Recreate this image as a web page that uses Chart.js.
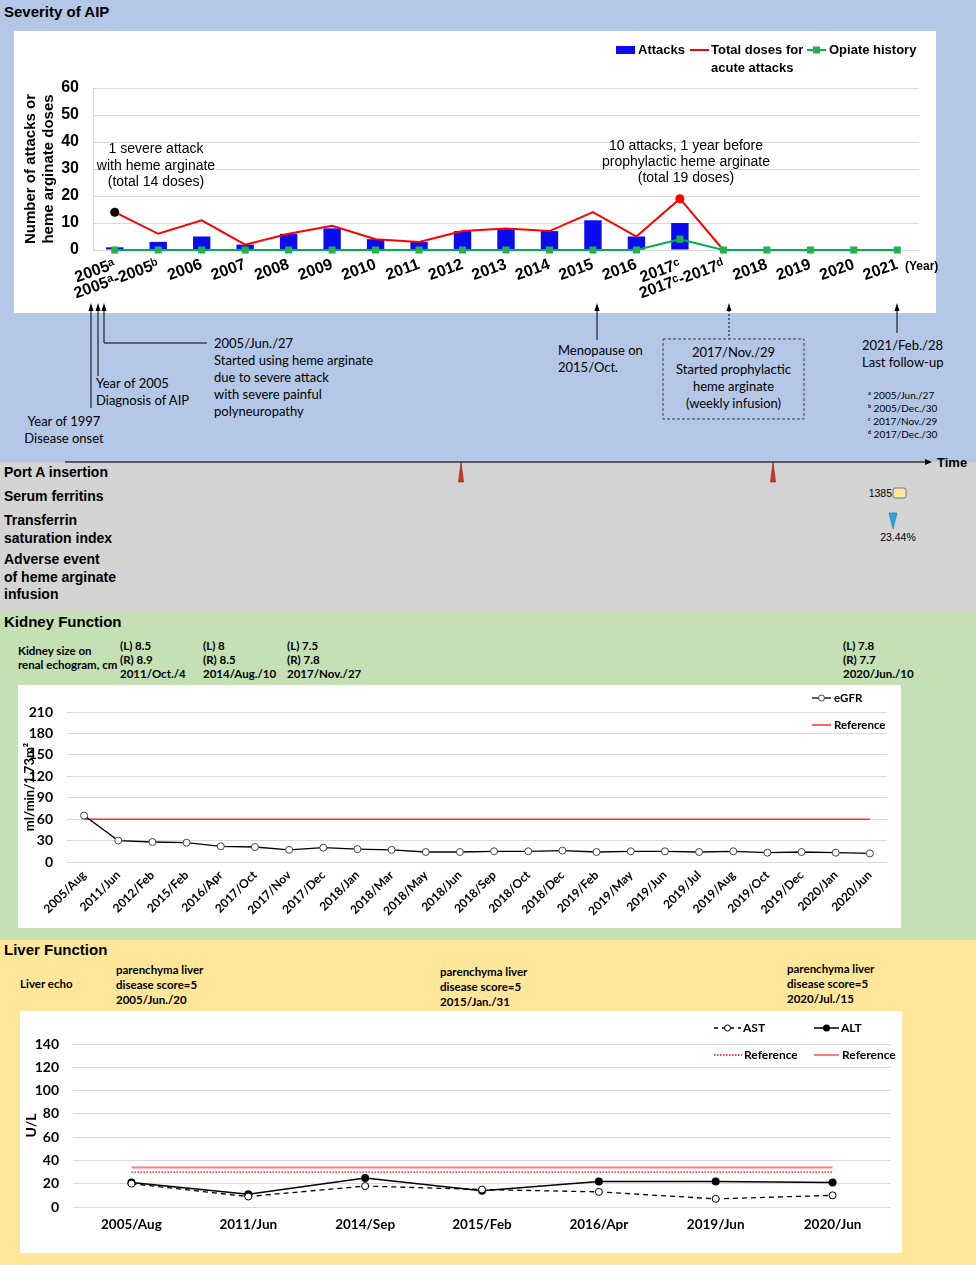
<!DOCTYPE html>
<html>
<head>
<meta charset="utf-8">
<script src="https://cdn.jsdelivr.net/npm/chart.js@4.4.1/dist/chart.umd.min.js"></script>
<style>
  body { margin: 0; background: #fff; }
  #page { position: relative; width: 976px; height: 1265px; overflow: hidden;
          font-family: "Liberation Sans", Arial, sans-serif; color: #000; }
  .band { position: absolute; left: 0; width: 976px; }
  .box { position: absolute; background: #fff; }
  .t { position: absolute; white-space: nowrap; }
  .head { font-weight: bold; font-size: 15px; line-height: 18px; left: 4px; }
  .cal { font-family: Lato, "Open Sans", sans-serif; }
  .calb { font-family: Lato, "Open Sans", sans-serif; font-weight: bold; font-size: 11.5px; line-height: 14px; }
  .note { font-family: Lato, "Open Sans", sans-serif; font-size: 13px; line-height: 17px; }
  .grey { font-weight: bold; font-size: 14px; line-height: 17.5px; left: 4px; }
  .lg { font-weight: bold; font-size: 13px; line-height: 18px; }
  canvas { position: absolute; }
  svg { position: absolute; left: 0; top: 0; }
</style>
</head>
<body>
<div id="page">
  <!-- backgrounds -->
  <div class="band" style="top:0;height:462px;background:#b4c7e7"></div>
  <div class="band" style="top:462px;height:150px;background:#d4d4d4"></div>
  <div class="band" style="top:612px;height:328px;background:#c5e0b4"></div>
  <div class="band" style="top:940px;height:325px;background:#ffe699"></div>

  <div class="box" style="left:14px;top:31px;width:922px;height:282px"></div>
  <div class="box" style="left:18px;top:685px;width:883px;height:243px"></div>
  <div class="box" style="left:20px;top:1011px;width:882px;height:242px"></div>

  <canvas id="severity" width="922" height="282" style="left:14px;top:31px"></canvas>
  <canvas id="kidney" width="883" height="243" style="left:18px;top:685px"></canvas>
  <canvas id="liver" width="882" height="242" style="left:20px;top:1011px"></canvas>

  <!-- severity section -->
  <div class="t head" style="top:3px">Severity of AIP</div>
  <div class="t" style="left:56px;width:200px;top:140px;text-align:center;font-size:14px;line-height:16.5px">1 severe attack<br>with heme arginate<br>(total 14 doses)</div>
  <div class="t" style="left:586px;width:200px;top:137px;text-align:center;font-size:14px;line-height:16px">10 attacks, 1 year before<br>prophylactic heme arginate<br>(total 19 doses)</div>
  <div class="t lg" style="left:638px;top:41px">Attacks</div>
  <div class="t lg" style="left:711px;top:41px">Total doses for<br>acute attacks</div>
  <div class="t lg" style="left:829px;top:41px">Opiate history</div>
  <div class="t" style="left:905px;top:259px;font-weight:bold;font-size:12px;line-height:14px">(Year)</div>

  <div class="t note" style="left:214px;top:334.5px">2005/Jun./27<br>Started using heme arginate<br>due to severe attack<br>with severe painful<br>polyneuropathy</div>
  <div class="t note" style="left:96px;top:374.5px">Year of 2005<br>Diagnosis of AIP</div>
  <div class="t note" style="left:14px;width:100px;text-align:center;top:412.5px">Year of 1997<br>Disease onset</div>
  <div class="t note" style="left:558px;top:341.5px">Menopause on<br>2015/Oct.</div>
  <div class="t note" style="left:663px;width:141px;text-align:center;top:343.5px;line-height:17.3px">2017/Nov./29<br>Started prophylactic<br>heme arginate<br>(weekly infusion)</div>
  <div class="t note" style="left:862px;top:336.5px">2021/Feb./28<br>Last follow-up</div>
  <div class="t cal" style="left:868px;top:388.5px;font-size:10px;line-height:13.3px">ᵃ 2005/Jun./27<br>ᵇ 2005/Dec./30<br>ᶜ 2017/Nov./29<br>ᵈ 2017/Dec./30</div>

  <!-- grey section -->
  <div class="t grey" style="top:463.5px">Port A insertion</div>
  <div class="t grey" style="top:488px">Serum ferritins</div>
  <div class="t grey" style="top:512px">Transferrin<br>saturation index</div>
  <div class="t grey" style="top:551px">Adverse event<br>of heme arginate<br>infusion</div>
  <div class="t" style="left:937px;top:455px;font-weight:bold;font-size:13px;line-height:16px">Time</div>
  <div class="t" style="left:860px;width:32px;text-align:right;top:486px;font-size:10.5px;line-height:14px">1385</div>
  <div class="t" style="left:873px;width:50px;text-align:center;top:530px;font-size:10.5px;line-height:14px">23.44%</div>

  <!-- kidney section -->
  <div class="t head" style="top:613px">Kidney Function</div>
  <div class="t calb" style="left:18px;top:644px">Kidney size on<br>renal echogram, cm</div>
  <div class="t calb" style="left:120px;top:639px">(L) 8.5<br>(R) 8.9<br>2011/Oct./4</div>
  <div class="t calb" style="left:203px;top:639px">(L) 8<br>(R) 8.5<br>2014/Aug./10</div>
  <div class="t calb" style="left:287px;top:639px">(L) 7.5<br>(R) 7.8<br>2017/Nov./27</div>
  <div class="t calb" style="left:843px;top:639px">(L) 7.8<br>(R) 7.7<br>2020/Jun./10</div>
  <div class="t calb" style="left:834px;top:691px">eGFR</div>
  <div class="t calb" style="left:834px;top:718px">Reference</div>

  <!-- liver section -->
  <div class="t head" style="top:941px">Liver Function</div>
  <div class="t calb" style="left:20px;top:977px">Liver echo</div>
  <div class="t calb" style="left:116px;top:961.5px;line-height:15px">parenchyma liver<br>disease score=5<br>2005/Jun./20</div>
  <div class="t calb" style="left:440px;top:963.5px;line-height:15px">parenchyma liver<br>disease score=5<br>2015/Jan./31</div>
  <div class="t calb" style="left:787px;top:960.5px;line-height:15px">parenchyma liver<br>disease score=5<br>2020/Jul./15</div>
  <div class="t calb" style="left:743px;top:1021px;font-size:12px">AST</div>
  <div class="t calb" style="left:841px;top:1021px;font-size:12px">ALT</div>
  <div class="t calb" style="left:744px;top:1048px;font-size:12px">Reference</div>
  <div class="t calb" style="left:842px;top:1048px;font-size:12px">Reference</div>

  <svg width="976" height="1265">
    <!-- severity legend keys -->
    <rect x="616" y="46" width="19" height="8" fill="#0b0bef"/>
    <line x1="690" y1="50" x2="709" y2="50" stroke="#ff0000" stroke-width="2"/>
    <line x1="807" y1="50" x2="826" y2="50" stroke="#00b050" stroke-width="2"/>
    <rect x="813" y="46.5" width="7" height="7" fill="#22b14c"/>

    <!-- timeline arrows -->
    <g stroke="#000" stroke-width="1" fill="none">
      <polyline points="91,306 91,408"/>
      <polyline points="98,306 98,376"/>
      <polyline points="104,306 104,343 207,343"/>
      <polyline points="597,306 597,340"/>
      <polyline points="729,306 729,339" stroke-dasharray="2,2"/>
      <polyline points="897,306 897,333"/>
      <rect x="663" y="339" width="141" height="80" stroke="#404040" stroke-dasharray="3,2"/>
      <line x1="65" y1="462" x2="926" y2="462" stroke="#333" stroke-width="1.3"/>
    </g>
    <g fill="#000">
      <polygon points="88.5,311 91,303 93.5,311"/>
      <polygon points="95.5,311 98,303 100.5,311"/>
      <polygon points="101.5,311 104,303 106.5,311"/>
      <polygon points="594.5,311 597,303 599.5,311"/>
      <polygon points="726.5,311 729,303 731.5,311"/>
      <polygon points="894.5,311 897,303 899.5,311"/>
      <polygon points="925,459 932,462 925,465"/>
    </g>

    <!-- grey band markers -->
    <polygon points="458.5,482 461,462 463.5,482" fill="#d9381e" stroke="#8b1a10" stroke-width="0.6"/>
    <polygon points="770.5,482 773,462 775.5,482" fill="#d9381e" stroke="#8b1a10" stroke-width="0.6"/>
    <rect x="893" y="488" width="13" height="10" rx="2" fill="#ffe699" stroke="#5b7fb0" stroke-width="1"/>
    <polygon points="889,513 897,513 893,529" fill="#29a8e0" stroke="#1a6fa0" stroke-width="0.6"/>

    <!-- kidney legend keys -->
    <line x1="812" y1="698" x2="831" y2="698" stroke="#000" stroke-width="1.3"/>
    <circle cx="821.5" cy="698" r="3" fill="#fff" stroke="#444" stroke-width="1"/>
    <line x1="812" y1="725" x2="831" y2="725" stroke="#ff3030" stroke-width="1.5"/>

    <!-- liver legend keys -->
    <line x1="714" y1="1028" x2="741" y2="1028" stroke="#000" stroke-width="1.3" stroke-dasharray="4,4"/>
    <circle cx="727.5" cy="1028" r="3" fill="#fff" stroke="#000" stroke-width="1"/>
    <line x1="814" y1="1028" x2="839" y2="1028" stroke="#000" stroke-width="1.5"/>
    <circle cx="826.5" cy="1028" r="3.5" fill="#000"/>
    <line x1="714" y1="1055" x2="742" y2="1055" stroke="#ff0000" stroke-width="1.3" stroke-dasharray="1.5,1.5"/>
    <line x1="814" y1="1055" x2="839" y2="1055" stroke="#ff7c80" stroke-width="2"/>
  </svg>
</div>

<script>
// ---- Severity of AIP ----
const severityYears = ['2005ᵃ', '2005ᵃ-2005ᵇ', '2006', '2007', '2008', '2009', '2010', '2011', '2012',
  '2013', '2014', '2015', '2016', '2017ᶜ', '2017ᶜ-2017ᵈ', '2018', '2019', '2020', '2021'];
const attacks = [1, 3, 5, 2, 6, 8, 4, 3, 7, 8, 7, 11, 5, 10, 0, null, null, null, null];
const totalDoses = [14, 6, 11, 2, 6, 9, 4, 3, 7, 8, 7, 14, 5, 19, 0, null, null, null, null];
const opiateHistory = [0, 0, 0, 0, 0, 0, 0, 0, 0, 0, 0, 0, 0, 4, 0, 0, 0, 0, 0];
const severityTicks = [0, 10, 20, 30, 40, 50, 60];
const markedDoses = { 0: '#000000', 13: '#ff0000' };   // index -> dot colour

// ---- Kidney function ----
const egfrDates = ['2005/Aug', '2011/Jun', '2012/Feb', '2015/Feb', '2016/Apr', '2017/Oct', '2017/Nov',
  '2017/Dec', '2018/Jan', '2018/Mar', '2018/May', '2018/Jun', '2018/Sep', '2018/Oct', '2018/Dec',
  '2019/Feb', '2019/May', '2019/Jun', '2019/Jul', '2019/Aug', '2019/Oct', '2019/Dec', '2020/Jan', '2020/Jun'];
const egfr = [65, 30, 28, 27, 22, 21, 17, 20, 18, 17, 14, 14, 15, 15, 16, 14, 15, 15, 14, 15, 13, 14, 13, 12];
const egfrReference = 60;
const egfrTicks = [0, 30, 60, 90, 120, 150, 180, 210];

// ---- Liver function ----
const liverDates = ['2005/Aug', '2011/Jun', '2014/Sep', '2015/Feb', '2016/Apr', '2019/Jun', '2020/Jun'];
const ast = [20, 9, 18, 15, 13, 7, 10];
const alt = [21, 11, 25, 14, 22, 22, 21];
const astReference = 30;
const altReference = 34;
const liverTicks = [0, 20, 40, 60, 80, 100, 120, 140];

Chart.defaults.font.family = '"Liberation Sans", Arial, sans-serif';
Chart.defaults.color = '#000';

const calibri = 'Lato, "Open Sans", sans-serif';
const gridGrey = '#d9d9d9';

new Chart(document.getElementById('severity'), {
  type: 'bar',
  data: {
    labels: severityYears,
    datasets: [
      {
        type: 'line', label: 'Opiate history', data: opiateHistory,
        borderColor: '#00b050', borderWidth: 2, backgroundColor: '#22b14c',
        pointStyle: 'rect', pointRadius: 5, pointBorderWidth: 0, order: 1, clip: false
      },
      {
        type: 'line', label: 'Total doses for acute attacks', data: totalDoses,
        borderColor: '#ff0000', borderWidth: 2,
        pointRadius: ctx => markedDoses[ctx.dataIndex] ? 4.5 : 0,
        pointBackgroundColor: ctx => markedDoses[ctx.dataIndex] || '#ff0000',
        pointBorderWidth: 0, order: 2, clip: false
      },
      {
        label: 'Attacks', data: attacks, backgroundColor: '#0b0bef',
        barPercentage: 0.4, categoryPercentage: 1, order: 3
      }
    ]
  },
  options: {
    responsive: false,
    animation: false,
    layout: { padding: { top: 57, right: 17, left: 0, bottom: 0 } },
    plugins: { legend: { display: false }, tooltip: { enabled: false } },
    scales: {
      x: {
        grid: { display: false, drawTicks: false },
        border: { display: false },
        ticks: { font: { size: 16, weight: 'bold' }, minRotation: 20, maxRotation: 20, autoSkip: false, padding: 5 },
        afterFit: s => { s.height = 63; }
      },
      y: {
        min: 0, max: 60,
        afterBuildTicks: s => { s.ticks = severityTicks.map(v => ({ value: v })); },
        ticks: { font: { size: 16, weight: 'bold' }, padding: 14 },
        grid: { color: gridGrey, drawTicks: false },
        border: { color: gridGrey },
        title: { display: true, text: ['Number of attacks or', 'heme arginate doses'],
                 font: { size: 15, weight: 'bold' }, padding: { top: 8 } },
        afterFit: s => { s.width = 79; }
      }
    }
  }
});

new Chart(document.getElementById('kidney'), {
  type: 'line',
  data: {
    labels: egfrDates,
    datasets: [
      {
        label: 'eGFR', data: egfr, borderColor: '#000', borderWidth: 1.3, clip: false,
        pointRadius: 3.5, pointBackgroundColor: '#fff', pointBorderColor: '#444', pointBorderWidth: 1
      },
      {
        label: 'Reference', data: egfrDates.map(() => egfrReference),
        borderColor: '#ff3030', borderWidth: 1.5, pointRadius: 0
      }
    ]
  },
  options: {
    responsive: false,
    animation: false,
    layout: { padding: { top: 27, right: 14, left: 0, bottom: 0 } },
    plugins: { legend: { display: false }, tooltip: { enabled: false } },
    scales: {
      x: {
        offset: true,
        grid: { display: false, drawTicks: false },
        border: { display: false },
        ticks: { font: { family: calibri, size: 12, weight: 'bold' }, minRotation: 45, maxRotation: 45, autoSkip: false, padding: 6 },
        afterFit: s => { s.height = 66; }
      },
      y: {
        min: 0, max: 210,
        afterBuildTicks: s => { s.ticks = egfrTicks.map(v => ({ value: v })); },
        ticks: { font: { family: calibri, size: 14, weight: 'bold' }, padding: 14 },
        grid: { color: gridGrey, drawTicks: false },
        border: { display: false },
        title: { display: true, text: 'ml/min/1.73m²', font: { family: calibri, size: 13, weight: 'bold' }, padding: { top: 4 } },
        afterFit: s => { s.width = 49; }
      }
    }
  }
});

new Chart(document.getElementById('liver'), {
  type: 'line',
  data: {
    labels: liverDates,
    datasets: [
      {
        label: 'AST', data: ast, borderColor: '#000', borderWidth: 1.3, borderDash: [5, 4], clip: false,
        pointRadius: 3.5, pointBackgroundColor: '#fff', pointBorderColor: '#000', pointBorderWidth: 1
      },
      {
        label: 'ALT', data: alt, borderColor: '#000', borderWidth: 1.5, clip: false,
        pointRadius: 4, pointBackgroundColor: '#000', pointBorderWidth: 0
      },
      {
        label: 'Reference', data: liverDates.map(() => astReference),
        borderColor: '#ff0000', borderWidth: 1.3, borderDash: [1.5, 1.5], pointRadius: 0
      },
      {
        label: 'Reference', data: liverDates.map(() => altReference),
        borderColor: '#ff7c80', borderWidth: 2, pointRadius: 0
      }
    ]
  },
  options: {
    responsive: false,
    animation: false,
    layout: { padding: { top: 33, right: 11, left: 0, bottom: 0 } },
    plugins: { legend: { display: false }, tooltip: { enabled: false } },
    scales: {
      x: {
        offset: true,
        grid: { display: false, drawTicks: false },
        border: { display: false },
        ticks: { font: { family: calibri, size: 13.5, weight: 'bold' }, maxRotation: 0, autoSkip: false, padding: 10 },
        afterFit: s => { s.height = 46; }
      },
      y: {
        min: 0, max: 140,
        afterBuildTicks: s => { s.ticks = liverTicks.map(v => ({ value: v })); },
        ticks: { font: { family: calibri, size: 14, weight: 'bold' }, padding: 14 },
        grid: { color: gridGrey, drawTicks: false },
        border: { display: false },
        title: { display: true, text: 'U/L', font: { family: calibri, size: 14, weight: 'bold' }, padding: { top: 3 } },
        afterFit: s => { s.width = 53; }
      }
    }
  }
});
</script>
</body>
</html>
